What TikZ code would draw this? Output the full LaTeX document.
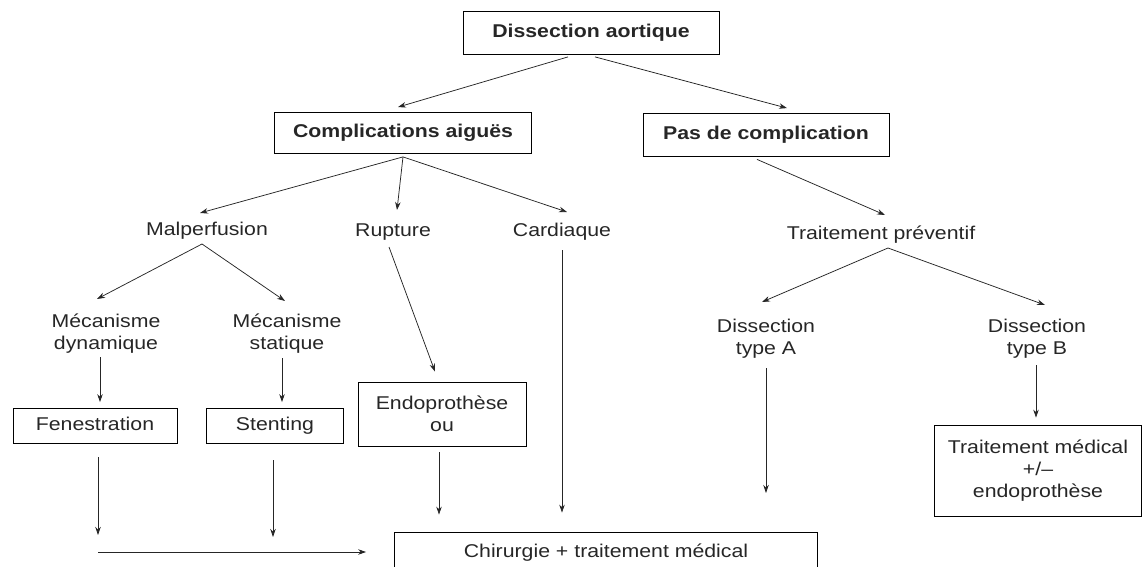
\documentclass[tikz,border=0pt]{standalone}
\usepackage{fontspec}
\setmainfont{Liberation Sans}[FakeStretch=1.15]
\usetikzlibrary{arrows.meta,calc}
\begin{document}
\begin{tikzpicture}[x=1pt,y=-1pt,
  every node/.style={font=\fontsize{18.5}{22}\selectfont, align=center, inner sep=0pt, text=black!85},
  box/.style={draw, line width=0.8pt},
  onel/.style={text height=13.5pt, text depth=4pt},
  tbox/.style={box, onel, font=\fontsize{18.5}{22}\selectfont\bfseries},
  arr/.style={-{Stealth[length=8pt,width=5.5pt]}, line width=0.75pt, draw=black!85}]
\clip (0,0) rectangle (1144,567);
\useasboundingbox (0,0) rectangle (1144,567);
% boxes and labels
\node[tbox, minimum width=256pt, minimum height=43pt] (top) at (591,33) {Dissection aortique};
\node[tbox, minimum width=257pt, minimum height=41pt] (comp) at (403,133) {Complications aiguës};
\node[tbox, minimum width=246pt, minimum height=43pt] (pas) at (766,135) {Pas de complication};
\node (malp) at (207,231) {Malperfusion};
\node (rupt) at (393,232) {Rupture};
\node (card) at (562,232) {Cardiaque};
\node (trait) at (881,235) {Traitement préventif};
\node (mdyn) at (106,334) {Mécanisme\\dynamique};
\node (mstat) at (287,334) {Mécanisme\\statique};
\node (dA) at (766,339) {Dissection\\type A};
\node (dB) at (1037,339) {Dissection\\type B};
\node[box, onel, minimum width=164pt, minimum height=35pt] (fen) at (95,426) {Fenestration};
\node[box, onel, minimum width=137pt, minimum height=35pt] (sten) at (275,426) {Stenting};
\node[box, minimum width=168pt, minimum height=64pt] (endo) at (442,414) {Endoprothèse\\ou};
\node[box, minimum width=207pt, minimum height=91pt] (tmed) at (1038,471) {Traitement médical\\+/--\\endoprothèse};
\node[box, onel, minimum width=423pt, minimum height=42pt] (chir) at (606,553) {Chirurgie + traitement médical};
% free ends
\coordinate (fe) at (98,535);
\coordinate (se) at (273,537);
\coordinate (ae) at (766,493);
\coordinate (bs) at (98,552);
% connectors
\draw[arr] ($(top.south)+(-23,2)$) -- ($(comp.north)+(-5,-5)$);
\draw[arr] ($(top.south)+(4,2)$) -- ($(pas.north)+(21,-5)$);
\draw[arr] ($(comp.south)+(0,3)$) -- ($(malp)+(-7,-18)$);
\draw[arr] ($(comp.south)+(0,3)$) -- ($(rupt)+(4,-22)$);
\draw[arr] ($(comp.south)+(0,3)$) -- ($(card)+(5,-20)$);
\draw[arr] ($(malp)+(-5,13)$) -- ($(mdyn)+(-9,-35)$);
\draw[arr] ($(malp)+(-5,13)$) -- ($(mstat)+(-2,-33)$);
\draw[arr] ($(mdyn)+(-6,23)$) -- ($(fen.north)+(5,-6)$);
\draw[arr] ($(mstat)+(-5,24)$) -- ($(sten.north)+(7,-6)$);
\draw[arr] ($(rupt)+(-4,15)$) -- ($(endo.north)+(-7,-10)$);
\draw[arr] ($(card)+(0,18)$) -- ($(chir.north)+(-44,-19)$);
\draw[arr] ($(fen.south)+(3,13.5)$) -- (fe);
\draw[arr] ($(sten.south)+(-2,16.5)$) -- (se);
\draw[arr] ($(endo.south)+(-3,6)$) -- ($(chir.north)+(-167,-17)$);
\draw[arr] (bs) -- ($(chir.west)+(-28,-1)$);
\draw[arr] ($(pas.south)+(-9,2.5)$) -- ($(trait)+(4,-20)$);
\draw[arr] ($(trait)+(7,13)$) -- ($(dA)+(-4,-37)$);
\draw[arr] ($(trait)+(7,13)$) -- ($(dB)+(8,-34)$);
\draw[arr] ($(dA)+(0,29)$) -- (ae);
\draw[arr] ($(dB)+(-1,26)$) -- ($(tmed.north)+(-2,-7.5)$);
\end{tikzpicture}
\end{document}
